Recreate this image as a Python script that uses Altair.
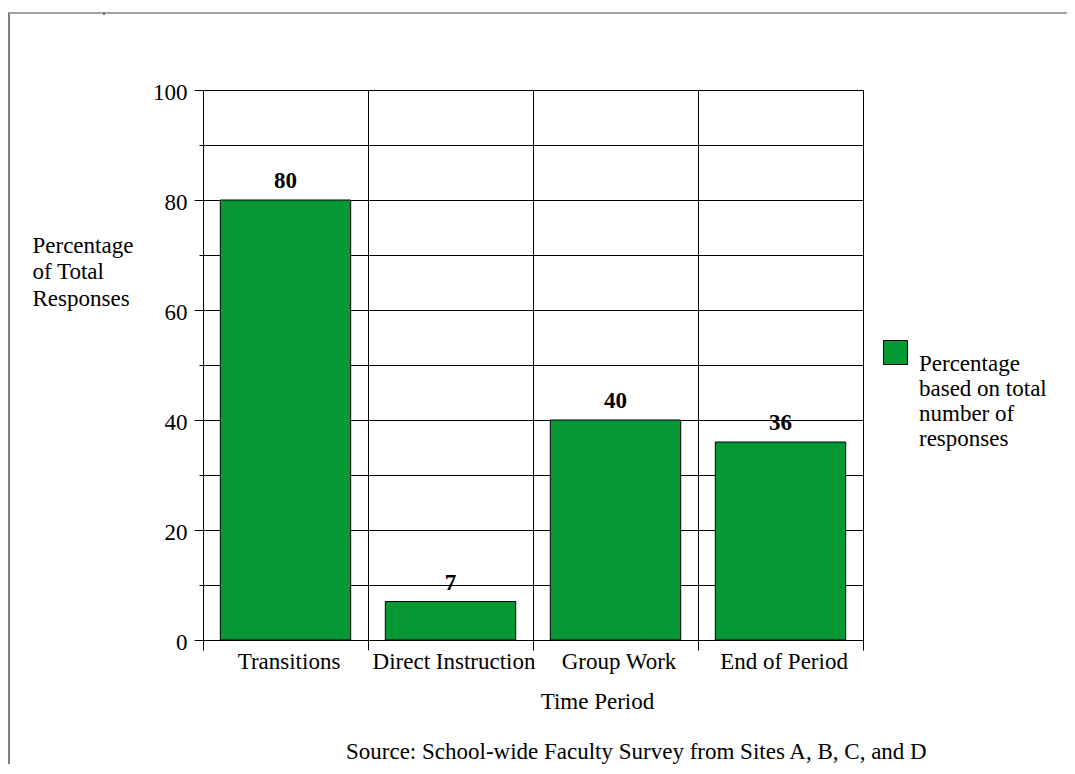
import altair as alt
import pandas as pd

# ---- data ----
categories = ["Transitions", "Direct Instruction", "Group Work", "End of Period"]
values = [80, 7, 40, 36]
series_name = "Percentage based on total number of responses"
legend_lines = ["Percentage", "based on total", "number of", "responses"]
y_title = ["Percentage", "of Total", "Responses"]
x_title = "Time Period"
source_text = "Source: School-wide Faculty Survey from Sites A, B, C, and D"
major_ticks = [0, 20, 40, 60, 80, 100]
minor_ticks = [0, 10, 20, 30, 40, 50, 60, 70, 80, 90, 100]

df = pd.DataFrame({"period": categories, "pct": values, "series": [series_name] * len(categories)})
deco = pd.DataFrame({"k": [0]})

FONT = "Liberation Serif"
FS = 23
GREEN = "#069835"

legend_expr = "[" + ",".join("'" + s + "'" for s in legend_lines) + "]"

x_enc = alt.X(
    "period:N",
    sort=categories,
    scale=alt.Scale(paddingInner=0, paddingOuter=0),
    axis=alt.Axis(
        title=x_title, tickBand="extent", grid=True, gridColor="black", gridWidth=1,
        domainColor="black", tickColor="black", tickSize=10, labelAngle=0,
        labelFont=FONT, labelFontSize=FS, labelColor="black", labelPadding=0, labelOffset=3,
        titleFont=FONT, titleFontSize=FS, titleFontWeight="normal", titleColor="black",
        titleX=394, titleY=68, titleBaseline="alphabetic", titleAlign="center",
    ),
)

y_scale = alt.Scale(domain=[0, 100], nice=False)

bars = alt.Chart(df).mark_bar(
    width=alt.RelativeBandSize(0.79), stroke="black", strokeWidth=1
).encode(
    x=x_enc,
    y=alt.Y(
        "pct:Q", scale=y_scale,
        axis=alt.Axis(
            values=minor_ticks, grid=True, gridColor="black", gridWidth=1,
            tickSize=4, tickColor="black", labels=False, title=None, orient="left",
            domainColor="black",
        ),
    ),
    fill=alt.Fill(
        "series:N", scale=alt.Scale(range=[GREEN]),
        legend=alt.Legend(
            title=None, orient="none", legendX=680, legendY=250,
            symbolType="square", symbolSize=576, symbolStrokeColor="black",
            symbolStrokeWidth=1, labelExpr=legend_expr, labelFont=FONT,
            labelFontSize=FS, labelColor="black", labelBaseline="top",
            labelOffset=11, padding=0, labelLimit=300,
        ),
    ),
)

text = alt.Chart(df).mark_text(
    font=FONT, fontSize=FS, fontWeight="bold", baseline="alphabetic", dy=-12, color="black"
).encode(
    x=x_enc,
    y=alt.Y(
        "pct:Q", scale=y_scale,
        axis=alt.Axis(
            values=major_ticks, grid=False, tickSize=9, tickColor="black",
            domainColor="black", orient="left",
            labelFont=FONT, labelFontSize=FS, labelColor="black", labelPadding=7,
            labelOffset=2,
            title=y_title, titleAngle=0, titleAlign="left", titleBaseline="alphabetic",
            titleX=-171, titleY=162, titleLineHeight=26.5, titleFont=FONT,
            titleFontSize=FS, titleFontWeight="normal", titleColor="black",
        ),
    ),
    text="pct:Q",
)

source = alt.Chart(deco).mark_text(
    font=FONT, fontSize=FS, align="left", baseline="alphabetic", color="black"
).encode(x=alt.value(143), y=alt.value(669), text=alt.value(source_text))

top_line = alt.Chart(deco).mark_rule(color="#808080", strokeWidth=1.5).encode(
    x=alt.value(-195), x2=alt.value(880), y=alt.value(-77)
)
left_line = alt.Chart(deco).mark_rule(color="#808080", strokeWidth=2).encode(
    x=alt.value(-194), y=alt.value(-77), y2=alt.value(700)
)
small_tick = alt.Chart(deco).mark_rule(color="black", strokeWidth=1).encode(
    x=alt.value(-99), y=alt.value(-77), y2=alt.value(-75)
)

chart = (
    alt.layer(bars, text, source, top_line, left_line, small_tick)
    .resolve_axis(y="independent")
    .properties(
        width=660, height=550,
        autosize=alt.AutoSizeParams(type="none"),
        padding={"left": 195, "top": 82, "right": 204, "bottom": 124},
        background="white",
    )
    .configure_view(stroke="black", strokeWidth=1)
)

chart.save("out.html", embed_options={"renderer": "svg", "actions": False})
